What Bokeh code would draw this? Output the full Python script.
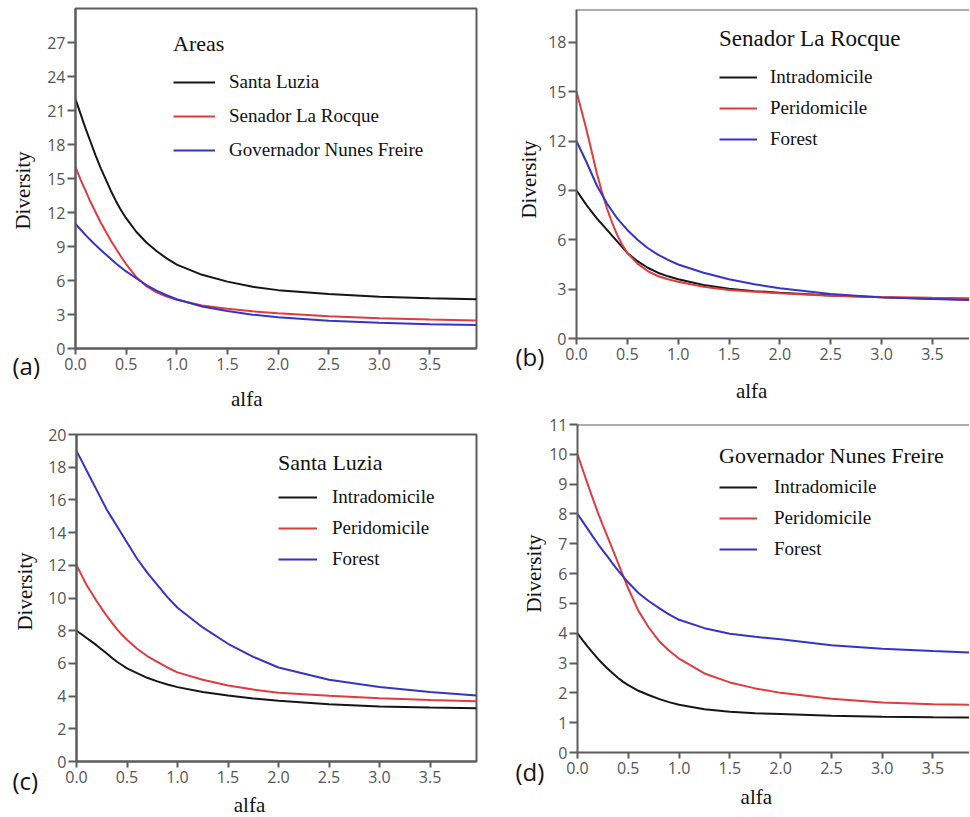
import math
from bokeh.plotting import figure
from bokeh.models import (Range1d, FixedTicker, PrintfTickFormatter, Legend,
                          LegendItem, Label, Span)
from bokeh.layouts import column, row
from bokeh.embed import file_html
from bokeh.resources import INLINE

# ---------------- data ----------------
ALFA = [0, 0.05, 0.1, 0.15, 0.2, 0.25, 0.3, 0.35, 0.4, 0.45, 0.5,
        0.6, 0.7, 0.8, 0.9, 1.0, 1.25, 1.5, 1.75, 2.0, 2.5, 3.0, 3.5, 3.96]
X_TICKS = [0.0, 0.5, 1.0, 1.5, 2.0, 2.5, 3.0, 3.5]

# (a) Areas
A_NAMES = ["Santa Luzia", "Senador La Rocque", "Governador Nunes Freire"]
A_SANTA_LUZIA = [22.0, 20.7, 19.4, 18.2, 17.0, 15.9, 14.9, 13.9, 13.0, 12.2, 11.5,
                 10.3, 9.35, 8.6, 7.95, 7.4, 6.5, 5.9, 5.45, 5.15, 4.8, 4.57, 4.43, 4.35]
A_SENADOR = [16.0, 14.9, 13.9, 12.9, 12.0, 11.1, 10.3, 9.5, 8.8, 8.1, 7.45,
             6.3, 5.5, 4.95, 4.58, 4.3, 3.8, 3.5, 3.28, 3.1, 2.85, 2.67, 2.55, 2.48]
A_GOVERNADOR = [11.0, 10.5, 10.0, 9.55, 9.1, 8.7, 8.3, 7.9, 7.5, 7.15, 6.8,
                6.2, 5.6, 5.1, 4.7, 4.35, 3.7, 3.3, 2.98, 2.75, 2.45, 2.27, 2.15, 2.08]
A_YTICKS = [0, 3, 6, 9, 12, 15, 18, 21, 24, 27]

HABITATS = ["Intradomicile", "Peridomicile", "Forest"]

# (b) Senador La Rocque
B_INTRA = [9.0, 8.55, 8.1, 7.7, 7.3, 6.95, 6.6, 6.25, 5.9, 5.55, 5.2,
           4.7, 4.3, 4.0, 3.78, 3.6, 3.25, 3.02, 2.88, 2.78, 2.62, 2.5, 2.42, 2.36]
B_PERI = [15.0, 13.85, 12.65, 11.35, 10.05, 8.9, 7.9, 7.05, 6.3, 5.7, 5.2,
          4.55, 4.1, 3.8, 3.6, 3.45, 3.15, 2.95, 2.84, 2.75, 2.6, 2.52, 2.47, 2.44]
B_FOREST = [12.0, 11.35, 10.7, 10.0, 9.3, 8.75, 8.2, 7.75, 7.3, 6.95, 6.6,
            6.0, 5.5, 5.1, 4.78, 4.5, 4.0, 3.6, 3.3, 3.05, 2.7, 2.5, 2.4, 2.33]
B_YTICKS = [0, 3, 6, 9, 12, 15, 18]

# (c) Santa Luzia
C_INTRA = [8.0, 7.78, 7.55, 7.33, 7.1, 6.85, 6.6, 6.35, 6.1, 5.9, 5.7,
           5.4, 5.12, 4.9, 4.71, 4.55, 4.25, 4.04, 3.86, 3.72, 3.5, 3.36, 3.3, 3.25]
C_PERI = [12.0, 11.4, 10.8, 10.3, 9.8, 9.35, 8.9, 8.5, 8.1, 7.75, 7.45,
          6.9, 6.45, 6.1, 5.75, 5.45, 5.0, 4.65, 4.4, 4.2, 4.02, 3.87, 3.76, 3.68]
C_FOREST = [19.0, 18.4, 17.8, 17.2, 16.6, 16.0, 15.4, 14.9, 14.4, 13.9, 13.4,
            12.4, 11.55, 10.8, 10.05, 9.4, 8.2, 7.2, 6.4, 5.75, 5.0, 4.55, 4.25, 4.04]
C_YTICKS = [0, 2, 4, 6, 8, 10, 12, 14, 16, 18, 20]

# (d) Governador Nunes Freire
D_INTRA = [4.0, 3.77, 3.55, 3.35, 3.15, 2.97, 2.8, 2.65, 2.5, 2.37, 2.26,
           2.07, 1.93, 1.8, 1.69, 1.6, 1.45, 1.37, 1.32, 1.29, 1.23, 1.2, 1.18, 1.17]
D_PERI = [10.0, 9.5, 9.0, 8.52, 8.05, 7.62, 7.2, 6.78, 6.35, 5.92, 5.5,
          4.75, 4.2, 3.75, 3.42, 3.15, 2.65, 2.35, 2.15, 2.0, 1.8, 1.68, 1.62, 1.6]
D_FOREST = [8.0, 7.75, 7.5, 7.25, 7.0, 6.77, 6.55, 6.32, 6.1, 5.9, 5.7,
            5.35, 5.08, 4.85, 4.63, 4.45, 4.17, 3.98, 3.88, 3.8, 3.6, 3.48, 3.4, 3.34]
D_YTICKS = [0, 1, 2, 3, 4, 5, 6, 7, 8, 9, 10, 11]

# ---------------- styling ----------------
COLORS = ["#161616", "#e23b3f", "#3434c8"]
AXIS_COL = "#5c5c5c"
TXT = "#111111"
SERIF = "Liberation Serif"
SANS = "Open Sans"


def make_panel(cfg):
    p = figure(width=cfg["w"], height=cfg["h"], output_backend="svg", toolbar_location=None,
               x_range=Range1d(0, cfg["xend"]), y_range=Range1d(0, cfg["yend"]),
               min_border_left=cfg["mb"][0], min_border_right=cfg["mb"][1],
               min_border_top=cfg["mb"][2], min_border_bottom=cfg["mb"][3])
    p.grid.visible = False
    p.background_fill_color = "white"
    p.border_fill_color = "white"

    p.xaxis.ticker = FixedTicker(ticks=X_TICKS)
    p.xaxis.formatter = PrintfTickFormatter(format="%.1f")
    p.yaxis.ticker = FixedTicker(ticks=cfg["yticks"])
    for ax in (p.xaxis, p.yaxis):
        ax.axis_line_color = AXIS_COL
        ax.axis_line_width = 2
        ax.major_tick_line_color = AXIS_COL
        ax.major_tick_line_width = 2
        ax.major_tick_in = 0
        ax.minor_tick_line_color = None
        ax.major_label_text_font = SANS
        ax.major_label_text_font_size = "16px"
        ax.major_label_text_color = "#555555"
    p.xaxis.major_tick_out = 6
    p.yaxis.major_tick_out = 8
    p.xaxis.major_label_standoff = 3
    p.yaxis.major_label_standoff = 2

    if cfg["box"]:
        p.outline_line_color = AXIS_COL
        p.outline_line_width = 2
    else:
        p.outline_line_color = None
        p.add_layout(Span(location=cfg["yend"], dimension="width",
                          line_color=AXIS_COL, line_width=2))

    items = []
    for ys, name, col in zip(cfg["series"], cfg["names"], COLORS):
        r = p.line(ALFA, ys, line_color=col, line_width=2)
        items.append(LegendItem(label=name, renderers=[r]))

    lg = cfg["legend"]
    legend = Legend(items=items, location=lg["loc"], title=cfg["title"],
                    title_text_font=SERIF, title_text_font_size=lg["tsize"],
                    title_text_font_style="normal", title_text_color=TXT,
                    title_standoff=lg["tstand"],
                    label_text_font=SERIF, label_text_font_size="19px",
                    label_text_color=TXT,
                    glyph_width=lg["gw"], glyph_height=22, label_height=22,
                    label_standoff=lg["ls"], spacing=lg["sp"],
                    padding=0, margin=0, border_line_color=None,
                    background_fill_alpha=0)
    p.add_layout(legend)
    return p


def make_strip(w, h, labels):
    """A plain text strip (no axes) holding labels that sit outside a plot frame."""
    s = figure(width=w, height=h, output_backend="svg", toolbar_location=None,
               x_range=Range1d(0, w), y_range=Range1d(0, h), min_border=0,
               x_axis_location=None, y_axis_location=None)
    s.grid.visible = False
    s.outline_line_color = None
    s.background_fill_color = "white"
    s.border_fill_color = "white"
    for lb in labels:
        s.add_layout(Label(text_color=TXT, text_baseline="middle", **lb))
    return s


def div_label(x, y):
    return dict(x=x, y=y, text="Diversity", angle=math.pi / 2, text_font=SERIF,
                text_font_size="21px", text_align="center")


def letter_label(x, y, t):
    return dict(x=x, y=y, text=t, text_font=SANS, text_font_size="24px", text_align="left")


def alfa_label(x, y):
    return dict(x=x, y=y, text="alfa", text_font=SERIF, text_font_size="21px",
                text_align="left")


pa = make_panel(dict(w=441, h=379, mb=(29, 9, 8, 31), xend=3.96, yend=30, yticks=A_YTICKS,
                     series=[A_SANTA_LUZIA, A_SENADOR, A_GOVERNADOR], names=A_NAMES,
                     title="Areas", box=True,
                     legend=dict(loc=(98, 187), tsize="22px", tstand=14, gw=42, ls=14, sp=12)))
pb = make_panel(dict(w=424, h=375, mb=(29, 0, 9, 37), xend=3.865, yend=20, yticks=B_YTICKS,
                     series=[B_INTRA, B_PERI, B_FOREST], names=HABITATS,
                     title="Senador La Rocque", box=False,
                     legend=dict(loc=(143, 188), tsize="23px", tstand=14, gw=38, ls=13, sp=9)))
pc = make_panel(dict(w=440, h=382, mb=(29, 9, 24, 31), xend=3.96, yend=20, yticks=C_YTICKS,
                     series=[C_INTRA, C_PERI, C_FOREST], names=HABITATS,
                     title="Santa Luzia", box=True,
                     legend=dict(loc=(202, 191), tsize="22px", tstand=10, gw=39, ls=15, sp=9)))
pd_ = make_panel(dict(w=423, h=373, mb=(29, 0, 14, 31), xend=3.86, yend=11, yticks=D_YTICKS,
                      series=[D_INTRA, D_PERI, D_FOREST], names=HABITATS,
                      title="Governador Nunes Freire", box=False,
                      legend=dict(loc=(142, 192), tsize="22px", tstand=7, gw=38, ls=17, sp=9)))

left_a = make_strip(44, 410, [div_label(22, 220), letter_label(12, 45, "(a)")])
bot_a = make_strip(441, 31, [alfa_label(171, 12)])
left_b = make_strip(60, 410, [div_label(43, 231), letter_label(30, 54, "(b)")])
bot_b = make_strip(424, 35, [alfa_label(172, 20)])
left_c = make_strip(45, 406, [div_label(24, 225), letter_label(12, 36, "(c)")])
bot_c = make_strip(440, 24, [alfa_label(173, 12)])
left_d = make_strip(61, 406, [div_label(48, 243), letter_label(30, 45, "(d)")])
bot_d = make_strip(423, 33, [alfa_label(176, 20)])

top = row(left_a, column(pa, bot_a), left_b, column(pb, bot_b))
bottom = row(left_c, column(pc, bot_c), left_d, column(pd_, bot_d))
layout = column(top, bottom)

with open("out.html", "w") as f:
    f.write(file_html(layout, INLINE))
